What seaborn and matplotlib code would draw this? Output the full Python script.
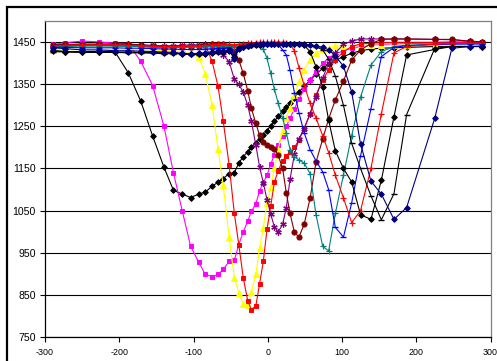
import matplotlib
matplotlib.use("Agg")
import matplotlib.pyplot as plt
from matplotlib.patches import Rectangle
import seaborn as sns

X = [-289, -273, -250, -227, -206, -188, -171, -155, -140, -127,
     -115, -104, -93, -84, -75, -67, -60, -52, -45, -39,
     -33, -27, -22, -16, -11, -6, -1, 4, 9, 14,
     20, 25, 30, 36, 42, 49, 57, 65, 74, 82,
     91, 102, 113, 125, 139, 153, 170, 187, 225, 248,
     273, 289]

s1_black = [1432, 1428, 1428, 1428, 1428, 1378, 1310, 1227, 1154, 1098,
            1089, 1081, 1089, 1094, 1108, 1117, 1126, 1138, 1140, 1163,
            1178, 1190, 1201, 1211, 1220, 1230, 1240, 1252, 1262, 1274,
            1287, 1296, 1305, 1318, 1332, 1345, 1360, 1374, 1388, 1398,
            1407, 1416, 1424, 1430, 1434, 1436, 1437, 1438, 1440, 1441,
            1441, 1440]
s2_magenta = [1445, 1449, 1453, 1451, 1448, 1447, 1405, 1347, 1252, 1140,
              1048, 966, 927, 898, 893, 898, 910, 929, 932, 969,
              999, 1025, 1048, 1066, 1097, 1116, 1134, 1160, 1183, 1205,
              1228, 1250, 1270, 1292, 1315, 1338, 1360, 1380, 1400, 1413,
              1422, 1430, 1436, 1440, 1443, 1445, 1446, 1447, 1448, 1449,
              1450, 1451]
s3_yellow = [1432, 1432, 1433, 1433, 1433, 1433, 1432, 1432, 1430, 1430,
             1428, 1426, 1414, 1375, 1300, 1197, 1110, 987, 890, 855,
             827, 826, 856, 899, 961, 1009, 1067, 1107, 1150, 1195,
             1240, 1270, 1295, 1325, 1355, 1385, 1408, 1424, 1433, 1437,
             1441, 1442, 1443, 1443, 1443, 1443, 1443, 1443, 1443, 1443,
             1443, 1442]
s4_red = [1440, 1442, 1443, 1443, 1442, 1442, 1440, 1438, 1437, 1437,
          1440, 1442, 1442, 1443, 1405, 1346, 1263, 1158, 1043, 969,
          890, 836, 814, 824, 876, 929, 1005, 1061, 1118, 1144,
          1168, 1180, 1190, 1200, 1218, 1245, 1280, 1325, 1360, 1385,
          1408, 1428, 1440, 1446, 1448, 1449, 1450, 1450, 1450, 1451,
          1451, 1450]
s5_purple = [1444, 1445, 1446, 1446, 1446, 1445, 1444, 1443, 1442, 1442,
             1443, 1444, 1444, 1445, 1445, 1440, 1420, 1404, 1362, 1350,
             1332, 1300, 1262, 1205, 1154, 1116, 1076, 1041, 1011, 999,
             1017, 1057, 1124, 1185, 1220, 1245, 1280, 1320, 1365, 1400,
             1425, 1445, 1453, 1458, 1458, 1458, 1458, 1458, 1457, 1456,
             1453, 1451]
s6_brown = [1443, 1445, 1444, 1445, 1446, 1446, 1444, 1441, 1440, 1440,
            1438, 1440, 1442, 1444, 1445, 1446, 1445, 1440, 1430, 1408,
            1376, 1335, 1293, 1257, 1229, 1212, 1206, 1202, 1196, 1182,
            1150, 1092, 1043, 998, 987, 1017, 1079, 1165, 1220, 1268,
            1313, 1358, 1408, 1432, 1447, 1457, 1458, 1458, 1457, 1457,
            1452, 1451]
s7_teal = [1440, 1440, 1441, 1441, 1441, 1440, 1440, 1439, 1438, 1438,
           1438, 1438, 1439, 1440, 1440, 1441, 1442, 1442, 1440, 1442,
           1443, 1444, 1444, 1445, 1442, 1434, 1412, 1376, 1338, 1306,
           1270, 1235, 1195, 1178, 1170, 1163, 1138, 1040, 965, 954,
           1043, 1135, 1228, 1320, 1396, 1428, 1440, 1443, 1445, 1446,
           1447, 1447]
s8_blue = [1438, 1438, 1437, 1437, 1437, 1436, 1436, 1435, 1434, 1434,
           1433, 1433, 1433, 1434, 1435, 1436, 1437, 1437, 1422, 1440,
           1443, 1445, 1446, 1447, 1447, 1447, 1447, 1447, 1447, 1445,
           1432, 1420, 1384, 1330, 1283, 1235, 1195, 1168, 1142, 1100,
           1010, 987, 1068, 1180, 1292, 1416, 1438, 1442, 1445, 1446,
           1446, 1446]
s9_red_plus = [1442, 1443, 1444, 1444, 1444, 1443, 1442, 1441, 1440, 1440,
               1441, 1442, 1442, 1443, 1444, 1445, 1446, 1446, 1444, 1446,
               1447, 1448, 1449, 1449, 1450, 1450, 1450, 1450, 1450, 1450,
               1450, 1449, 1445, 1430, 1390, 1348, 1305, 1270, 1228, 1188,
               1134, 1080, 1021, 1050, 1150, 1280, 1425, 1440, 1446, 1447,
               1448, 1448]
s10_black_d = [1430, 1428, 1427, 1427, 1427, 1427, 1426, 1426, 1425, 1424,
               1423, 1422, 1422, 1423, 1425, 1426, 1428, 1430, 1414, 1436,
               1440, 1442, 1443, 1444, 1444, 1445, 1445, 1445, 1445, 1446,
               1446, 1446, 1446, 1446, 1445, 1443, 1428, 1392, 1343, 1265,
               1192, 1150, 1118, 1040, 1029, 1122, 1273, 1420, 1433, 1440,
               1440, 1440]
s11_black_dash = [1428, 1427, 1426, 1426, 1426, 1425, 1425, 1424, 1423, 1423,
                  1422, 1421, 1421, 1422, 1424, 1425, 1427, 1429, 1416, 1434,
                  1438, 1440, 1441, 1442, 1443, 1444, 1444, 1444, 1445, 1445,
                  1445, 1445, 1445, 1445, 1444, 1443, 1442, 1440, 1432, 1410,
                  1370, 1300, 1210, 1150, 1085, 1028, 1090, 1278, 1436, 1440,
                  1440, 1440]
s12_navy = [1437, 1435, 1432, 1432, 1430, 1430, 1429, 1428, 1427, 1426,
            1424, 1423, 1424, 1425, 1428, 1429, 1430, 1432, 1410, 1435,
            1440, 1442, 1444, 1445, 1446, 1446, 1446, 1446, 1447, 1447,
            1447, 1447, 1447, 1447, 1446, 1445, 1444, 1442, 1438, 1432,
            1418, 1393, 1332, 1208, 1120, 1089, 1029, 1057, 1270, 1436,
            1440, 1441]

x_ticks = [-300, -200, -100, 0, 100, 200, 300]
y_ticks = [750, 850, 950, 1050, 1150, 1250, 1350, 1450]

series = [
    (s1_black, "#000000", "D", 2.9, 0.7),
    (s2_magenta, "#FF00FF", "s", 3.2, 0.7),
    (s3_yellow, "#FFFF00", "^", 3.9, 0.7),
    (s4_red, "#FF0000", "s", 3.2, 0.7),
    (s5_purple, "#800080", (6, 2, 0), 4.6, 0.9),
    (s6_brown, "#800000", "o", 3.7, 0.7),
    (s7_teal, "#008080", "+", 4.6, 0.9),
    (s8_blue, "#0000FF", "_", 3.8, 1.0),
    (s9_red_plus, "#FF0000", "+", 4.6, 0.9),
    (s10_black_d, "#000000", "D", 2.9, 0.7),
    (s11_black_dash, "#000000", "_", 3.8, 1.0),
    (s12_navy, "#000080", "D", 2.9, 0.7),
]

sns.set_style("white")
plt.rcParams["font.family"] = ["Liberation Sans", "DejaVu Sans"]

fig = plt.figure(figsize=(4.97, 3.61), dpi=100)
ax = fig.add_axes([45 / 497, 1 - 336.7 / 361, (490.5 - 45) / 497, (336.7 - 21.3) / 361])

for vals, col, mk, ms, mew in series:
    sns.lineplot(x=X, y=vals, ax=ax, color=col, marker=mk, markersize=ms,
                 markeredgecolor=col, markerfacecolor=col, markeredgewidth=mew,
                 linewidth=0.8, estimator=None, sort=False, legend=False)

ax.set_xlim(-300, 300)
ax.set_ylim(750, 1500)
ax.set_xticks(x_ticks)
ax.set_yticks(y_ticks)
ax.set_xticklabels([str(v) for v in x_ticks])
ax.set_yticklabels([str(v) for v in y_ticks])
ax.yaxis.grid(True, color="black", linewidth=0.8)
ax.xaxis.grid(False)
ax.set_axisbelow(True)
ax.set_xlabel("")
ax.set_ylabel("")

for side in ["left", "bottom"]:
    ax.spines[side].set_color("black")
    ax.spines[side].set_linewidth(0.9)
for side in ["top", "right"]:
    ax.spines[side].set_color("#808080")
    ax.spines[side].set_linewidth(0.9)

ax.tick_params(axis="y", direction="out", length=3.6, width=0.8, pad=3.2,
               labelsize=7.6, colors="black", left=True)
ax.tick_params(axis="x", direction="out", length=3.6, width=0.8, pad=4.5,
               labelsize=6.4, colors="black", bottom=True)

fig.patches.append(Rectangle((7 / 497, -0.05), 1.2, (1 - 7 / 361) + 0.05,
                             transform=fig.transFigure, fill=False,
                             edgecolor="black", linewidth=1.6, zorder=10))

fig.savefig("out.png", dpi=100, facecolor="white")
